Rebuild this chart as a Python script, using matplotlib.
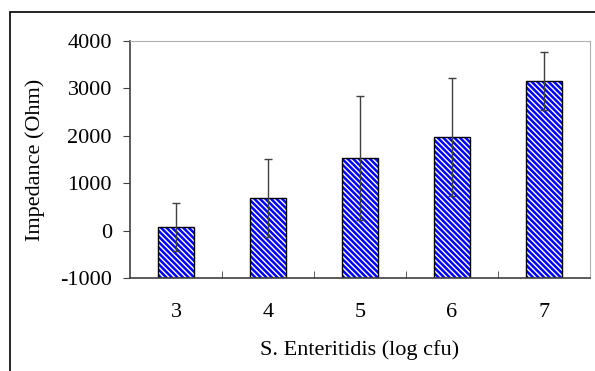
import matplotlib.pyplot as plt
import matplotlib.patches as patches

plt.rcParams['font.family'] = ['Liberation Serif', 'DejaVu Serif']
plt.rcParams['axes.unicode_minus'] = False
plt.rcParams['hatch.linewidth'] = 1.8

## Data
log_cfu = ['3', '4', '5', '6', '7']
impedance = [70, 690, 1530, 1980, 3160]
err = [510, 820, 1310, 1240, 610]
y_floor = -1000

fig = plt.figure(figsize=(5.95, 3.71), dpi=100)

# outer frame (cut off at right and bottom)
fig.add_artist(patches.Rectangle((10 / 595, -0.05), 1.0, (371 - 12) / 371 + 0.05,
                                 transform=fig.transFigure, fill=False,
                                 edgecolor='black', linewidth=1.2))

ax = fig.add_axes([130 / 595, (371 - 278) / 371, 460 / 595, (278 - 41) / 371])

x = range(len(log_cfu))
heights = [v - y_floor for v in impedance]
# blue stripes first, then black outline on top
ax.bar(x, heights, bottom=y_floor, width=0.4, color='white', edgecolor='#0000ff',
       linewidth=0, hatch='\\\\\\\\\\\\', zorder=2)
ax.bar(x, heights, bottom=y_floor, width=0.4, fill=False, edgecolor='black',
       linewidth=1.0, zorder=2.5)
ax.errorbar(x, impedance, yerr=err, fmt='none', ecolor='#404040',
            elinewidth=1.0, capsize=3, capthick=1.0, zorder=3)

ax.set_xlim(-0.5, len(log_cfu) - 0.5)
ax.set_ylim(-1000, 4000)
ax.set_yticks([-1000, 0, 1000, 2000, 3000, 4000])

# category labels centred, ticks between categories
ax.set_xticks(list(x))
ax.set_xticklabels(log_cfu)
ax.tick_params(axis='x', length=0, pad=18, labelsize=16)
ax.set_xticks([i + 0.5 for i in range(len(log_cfu) - 1)], minor=True)
ax.tick_params(axis='x', which='minor', direction='in', length=5, color='#404040')
ax.tick_params(axis='y', direction='out', length=5, pad=8, labelsize=16, color='#404040')

for side in ['top', 'right']:
    ax.spines[side].set_color('#b0b0b0')
for side in ['left', 'bottom']:
    ax.spines[side].set_color('#404040')
    ax.spines[side].set_linewidth(1.2)

ax.set_ylabel('Impedance (Ohm)', fontsize=16, va='center')
ax.yaxis.set_label_coords((35 - 130) / 460, 0.5)
ax.set_xlabel('S. Enteritidis (log cfu)', fontsize=16, va='center')
ax.xaxis.set_label_coords(0.5, (278 - 350) / 237)

fig.savefig('out.png', dpi=100)
